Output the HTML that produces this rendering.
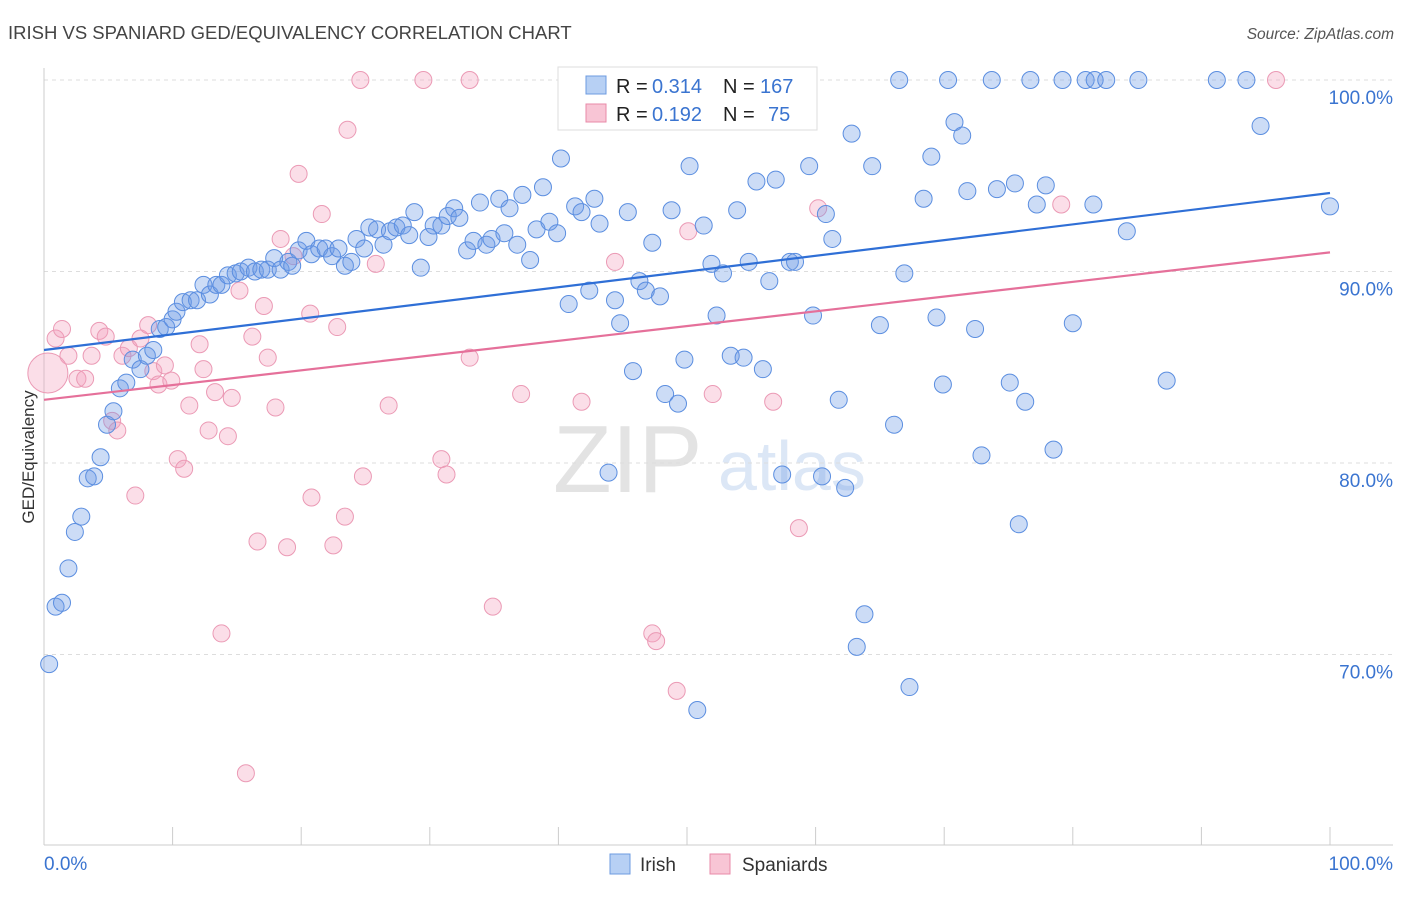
<!DOCTYPE html>
<html><head><meta charset="utf-8"><style>
body{margin:0;background:#fff;font-family:"Liberation Sans",sans-serif}
svg text{font-family:"Liberation Sans",sans-serif}
</style></head><body>
<svg id="chart" width="1406" height="892" xmlns="http://www.w3.org/2000/svg">
<text x="8" y="39" font-size="18.5" fill="#444">IRISH VS SPANIARD GED/EQUIVALENCY CORRELATION CHART</text>
<text x="1394" y="39" font-size="15.5" fill="#555" text-anchor="end" font-style="italic">Source: ZipAtlas.com</text>
<g>
<text x="553" y="492" font-family="Liberation Serif" font-size="96" fill="#e3e3e3">ZIP</text>
<text x="718" y="490" font-size="70" fill="#dce7f6">atlas</text>
</g>
<g id="grid"></g>
<g id="axes"></g>
<g id="pts"></g>
<g id="trend"></g>
<text transform="translate(34,457) rotate(-90)" font-size="17" fill="#333" text-anchor="middle">GED/Equivalency</text>
<g>
<rect x="558" y="67" width="259" height="63" fill="#fff" stroke="#ddd"/>
<rect x="586" y="76" width="20" height="18" fill="#b7d0f4" stroke="#6c9be0"/>
<text x="616" y="93" font-size="20" fill="#222">R =</text>
<text x="652" y="93" font-size="20" fill="#3a74d0">0.314</text>
<text x="723" y="93" font-size="20" fill="#222">N =</text>
<text x="760" y="93" font-size="20" fill="#3a74d0">167</text>
<rect x="586" y="104" width="20" height="18" fill="#f8c5d5" stroke="#e88aa8"/>
<text x="616" y="121" font-size="20" fill="#222">R =</text>
<text x="652" y="121" font-size="20" fill="#3a74d0">0.192</text>
<text x="723" y="121" font-size="20" fill="#222">N =</text>
<text x="768" y="121" font-size="20" fill="#3a74d0">75</text>
</g>
<g>
<rect x="610" y="854" width="20" height="20" fill="#b7d0f4" stroke="#6c9be0"/>
<text x="640" y="871" font-size="19" fill="#333">Irish</text>
<rect x="710" y="854" width="20" height="20" fill="#f8c5d5" stroke="#e88aa8"/>
<text x="742" y="871" font-size="19" fill="#333">Spaniards</text>
</g>
</svg>
<script>
const yTicks=[100,90,80,70];
const yTickLabels=["100.0%","90.0%","80.0%","70.0%"];
const xTickLabels=["0.0%","100.0%"];
const irishX=[0.4,0.9,1.4,1.9,2.4,2.9,3.4,3.9,4.4,4.9,5.4,5.9,6.4,6.9,7.5,8.0,8.5,9.0,9.5,10.0,10.3,10.8,11.4,11.9,12.4,12.9,13.4,13.8,14.3,14.9,15.3,15.9,16.4,16.9,17.4,17.9,18.4,19.0,19.3,19.8,20.4,20.8,21.4,21.9,22.4,22.9,23.4,23.9,24.3,24.9,25.3,25.9,26.4,26.9,27.4,27.9,28.4,28.8,29.3,29.9,30.3,30.9,31.4,31.9,32.3,32.9,33.4,33.9,34.4,34.8,35.4,35.8,36.2,36.8,37.2,37.8,38.3,38.8,39.3,39.9,40.2,40.8,41.3,41.8,42.4,42.8,43.2,43.9,44.4,44.8,45.4,45.8,46.3,46.8,47.3,47.9,48.3,48.8,49.3,49.8,50.2,50.8,51.3,51.9,52.3,52.8,53.4,53.9,54.4,54.8,55.4,55.9,56.4,56.9,57.4,58.0,58.4,58.9,59.5,59.8,60.5,60.8,61.3,61.8,62.3,62.8,63.2,63.8,64.4,65.0,66.1,66.5,66.9,67.3,68.4,69.0,69.4,69.9,70.3,70.8,71.4,71.8,72.4,72.9,73.7,74.1,75.1,75.5,75.8,76.3,76.7,77.2,77.9,78.5,79.2,80.0,81.0,81.6,81.7,82.6,84.2,85.1,87.3,91.2,93.5,94.6,100];
const irishY=[69.5,72.5,72.7,74.5,76.4,77.2,79.2,79.3,80.3,82.0,82.7,83.9,84.2,85.4,84.9,85.6,85.9,87.0,87.1,87.5,87.9,88.4,88.5,88.5,89.3,88.8,89.3,89.3,89.8,89.9,90.0,90.2,90.0,90.1,90.1,90.7,90.1,90.5,90.3,91.1,91.6,90.9,91.2,91.2,90.8,91.2,90.3,90.5,91.7,91.2,92.3,92.2,91.4,92.1,92.3,92.4,91.9,93.1,90.2,91.8,92.4,92.4,92.9,93.3,92.8,91.1,91.6,93.6,91.4,91.7,93.8,92.0,93.3,91.4,94.0,90.6,92.2,94.4,92.6,92.0,95.9,88.3,93.4,93.1,89.0,93.8,92.5,79.5,88.5,87.3,93.1,84.8,89.5,89.0,91.5,88.7,83.6,93.2,83.1,85.4,95.5,67.1,92.4,90.4,87.7,89.9,85.6,93.2,85.5,90.5,94.7,84.9,89.5,94.8,79.4,90.5,90.5,99.9,95.5,87.7,79.3,93.0,91.7,83.3,78.7,97.2,70.4,72.1,95.5,87.2,82.0,100,89.9,68.3,93.8,96.0,87.6,84.1,100,97.8,97.1,94.2,87.0,80.4,100,94.3,84.2,94.6,76.8,83.2,100,93.5,94.5,80.7,100,87.3,100,93.5,100,100,92.1,100,84.3,100,100,97.6,93.4];
const spanX=[0.9,1.4,1.9,2.6,3.2,3.7,4.3,4.8,5.3,5.7,6.1,6.6,7.1,7.5,8.1,8.5,8.9,9.4,9.9,10.4,10.9,11.3,12.1,12.4,12.8,13.3,13.8,14.3,14.6,15.2,15.7,16.2,16.6,17.1,17.4,18.0,18.4,18.9,19.4,19.8,20.7,20.8,21.6,22.5,22.8,23.4,23.6,24.6,24.8,25.8,26.8,29.5,30.9,31.3,33.1,33.1,34.9,37.1,40.7,41.8,44.4,45.4,47.3,47.6,49.2,50.1,52.0,56.7,58.7,60.2,79.1,95.8];
const spanY=[86.5,87.0,85.6,84.4,84.4,85.6,86.9,86.6,82.2,81.7,85.6,86.0,78.3,86.5,87.2,84.8,84.1,85.1,84.3,80.2,79.7,83.0,86.2,84.9,81.7,83.7,71.1,81.4,83.4,89.0,63.8,86.6,75.9,88.2,85.5,82.9,91.7,75.6,90.8,95.1,87.8,78.2,93.0,75.7,87.1,77.2,97.4,100,79.3,90.4,83.0,100,80.2,79.4,100,85.5,72.5,83.6,100,83.2,90.5,98.9,71.1,70.7,68.1,92.1,83.6,83.2,76.6,93.3,93.5,100];
const irishTrend=[85.9,94.1];
const spanTrend=[83.3,91.0];
const X=v=>44+v*12.86, Y=v=>80+(100-v)*19.15;
const NS="http://www.w3.org/2000/svg";
function mk(parent,tag,attrs){const e=document.createElementNS(NS,tag);for(const k in attrs)e.setAttribute(k,attrs[k]);parent.appendChild(e);return e;}
const grid=document.getElementById('grid'),axes=document.getElementById('axes'),pts=document.getElementById('pts'),trend=document.getElementById('trend');
yTicks.forEach((t,i)=>{
 const l=mk(grid,'line',{x1:44,x2:1393,y1:Y(t),y2:Y(t),stroke:'#ddd','stroke-dasharray':'4,4'});
 
 
 const tx=mk(axes,'text',{x:1393,y:Y(t)+24,'font-size':19,fill:'#3a74d0','text-anchor':'end'});
 tx.textContent=yTickLabels[i];
 
 
});
mk(axes,'line',{x1:44,x2:44,y1:68,y2:845,stroke:'#ccc'});
mk(axes,'line',{x1:44,x2:1393,y1:845,y2:845,stroke:'#ccc'});
for(let i=0;i<=10;i++){const t=mk(axes,'line',{x1:X(i*10),x2:X(i*10),y1:827,y2:845,stroke:'#ccc'});
 
 }
[[0,'start',44],[100,'end',1393]].forEach((d,i)=>{const t=mk(axes,'text',{x:d[2],y:870,'font-size':19,fill:'#3a74d0','text-anchor':d[1]});t.textContent=xTickLabels[i];
 
 });
spanX.forEach((x,i)=>{const c=mk(pts,'circle',{cx:X(x),cy:Y(spanY[i]),r:8.5,fill:'rgba(244,160,190,0.35)',stroke:'#eb9ab5','stroke-width':1});
 
 });
const big=mk(pts,'circle',{cx:X(0.3),cy:Y(84.7),r:20,fill:'rgba(244,160,190,0.35)',stroke:'#eb9ab5'});


irishX.forEach((x,i)=>{const c=mk(pts,'circle',{cx:X(x),cy:Y(irishY[i]),r:8.5,fill:'rgba(110,155,230,0.35)',stroke:'#5b8ee0','stroke-width':1});
 
 });
const t1=mk(trend,'line',{x1:X(0),y1:Y(irishTrend[0]),x2:X(100),y2:Y(irishTrend[1]),stroke:'#2f6fd6','stroke-width':2.2});


const t2=mk(trend,'line',{x1:X(0),y1:Y(spanTrend[0]),x2:X(100),y2:Y(spanTrend[1]),stroke:'#e5709a','stroke-width':2.2});


</script>
</body></html>
